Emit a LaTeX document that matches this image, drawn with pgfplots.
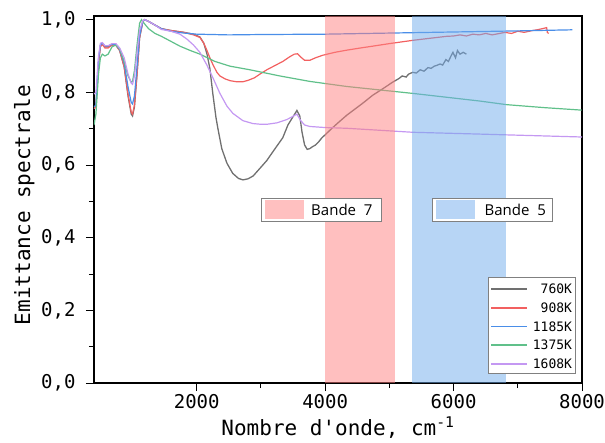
\documentclass[border=0pt]{standalone}
\usepackage{fontspec}
\setmainfont{DejaVu Sans Mono}[Ligatures=TeXOff]
\newfontfamily\bandfont{Open Sans}
\usepackage{pgfplots}
\pgfplotsset{compat=1.18}
\definecolor{cgray}{RGB}{112,112,112}
\definecolor{cred}{RGB}{242,96,96}
\definecolor{cblue}{RGB}{74,142,232}
\definecolor{cgreen}{RGB}{96,192,138}
\definecolor{cpurple}{RGB}{196,152,242}
\definecolor{bandred}{RGB}{255,128,128}
\definecolor{bandblue}{RGB}{112,172,236}
\begin{document}
\begin{tikzpicture}
\begin{axis}[
  scale only axis, width=488pt, height=367pt,
  xmin=400, xmax=8000, ymin=0, ymax=1.01,
  xtick={2000,4000,6000,8000}, ytick={0,0.2,0.4,0.6,0.8,1.0},
  minor x tick num=1, minor y tick num=1,
  tick align=outside, xtick pos=left, ytick pos=left,
  major tick length=8pt, minor tick length=5pt,
  every tick/.style={black, line width=0.9pt},
  axis line style={line width=1.1pt},
  /pgf/number format/assume math mode=true,
  xticklabel style={/pgf/number format/1000 sep={}, font=\fontsize{19}{21}\selectfont},
  yticklabel style={/pgf/number format/.cd, use comma, fixed, fixed zerofill, precision=1, /tikz/.cd, font=\fontsize{19}{21}\selectfont, xshift=-7pt},
  xlabel={Nombre d'onde, cm\textsuperscript{-1}},
  ylabel={Emittance spectrale},
  xlabel style={at={(axis description cs:0.5,-0.142)}, anchor=base, font=\fontsize{21}{23}\selectfont},
  ylabel style={at={(axis description cs:-0.143,0.485)}, anchor=center, font=\fontsize{21}{23}\selectfont},
]
\coordinate (ll) at (rel axis cs:0,0);
\coordinate (ur) at (rel axis cs:1,1);
% 760K
\addplot[cgray, line width=1.3pt] coordinates {
(400,0.755)(430,0.76)(470,0.88)(500,0.93)(530,0.935)(570,0.925)(620,0.925)(680,0.93)(740,0.93)(800,0.915)(870,0.87)(930,0.79)(980,0.74)(1000,0.735)(1030,0.76)(1070,0.85)(1110,0.95)(1160,0.995)(1190,1.0)(1250,0.995)(1350,0.985)(1450,0.975)(1600,0.97)(1800,0.965)(1950,0.96)(2050,0.952)(2110,0.935)(2160,0.905)(2205,0.865)(2250,0.797)(2300,0.73)(2330,0.70)(2390,0.645)(2470,0.605)(2560,0.577)(2650,0.563)(2720,0.559)(2800,0.562)(2880,0.57)(2980,0.59)(3090,0.612)(3200,0.64)(3340,0.675)(3420,0.71)(3500,0.733)(3560,0.75)(3605,0.735)(3640,0.69)(3680,0.655)(3720,0.643)(3760,0.645)(3800,0.65)(3850,0.655)(3900,0.664)(3950,0.675)(4000,0.683)(4100,0.70)(4200,0.716)(4337,0.737)(4450,0.752)(4600,0.772)(4741,0.792)(4900,0.81)(5052,0.828)(5150,0.838)(5200,0.845)(5260,0.842)(5300,0.85)(5364,0.855)(5420,0.853)(5480,0.862)(5540,0.858)(5600,0.868)(5650,0.866)(5700,0.872)(5737,0.874)(5790,0.878)(5830,0.875)(5880,0.89)(5920,0.885)(5960,0.9)(5990,0.91)(6030,0.895)(6060,0.915)(6100,0.905)(6150,0.91)(6200,0.905)};
% 908K
\addplot[cred, line width=1.2pt] coordinates {
(400,0.755)(430,0.76)(470,0.88)(500,0.925)(530,0.932)(570,0.922)(620,0.922)(680,0.93)(740,0.93)(800,0.915)(870,0.87)(930,0.795)(980,0.745)(1000,0.74)(1030,0.765)(1070,0.85)(1110,0.95)(1160,0.995)(1190,1.0)(1250,0.995)(1350,0.985)(1450,0.975)(1600,0.97)(1800,0.965)(1950,0.958)(2050,0.951)(2110,0.935)(2160,0.915)(2205,0.895)(2250,0.877)(2314,0.855)(2361,0.845)(2440,0.837)(2520,0.832)(2620,0.829)(2720,0.829)(2800,0.833)(2900,0.84)(2983,0.85)(3092,0.862)(3200,0.872)(3341,0.885)(3450,0.898)(3520,0.905)(3570,0.906)(3620,0.897)(3680,0.888)(3760,0.888)(3850,0.895)(3963,0.902)(4150,0.91)(4337,0.916)(4550,0.922)(4741,0.927)(5000,0.934)(5364,0.943)(5600,0.948)(5890,0.954)(6000,0.955)(6100,0.958)(6200,0.955)(6300,0.96)(6400,0.958)(6500,0.962)(6600,0.958)(6717,0.962)(6800,0.965)(6900,0.962)(7000,0.968)(7100,0.965)(7230,0.97)(7300,0.972)(7380,0.975)(7449,0.978)(7460,0.965)(7480,0.962)};
% 1185K
\addplot[cblue, line width=1.2pt] coordinates {
(400,0.76)(430,0.765)(470,0.89)(500,0.93)(530,0.935)(570,0.928)(620,0.928)(680,0.932)(740,0.932)(800,0.918)(870,0.88)(930,0.815)(980,0.772)(1000,0.768)(1030,0.79)(1070,0.87)(1110,0.955)(1160,0.995)(1190,1.0)(1250,0.995)(1350,0.985)(1450,0.975)(1600,0.968)(1800,0.963)(2000,0.96)(2500,0.958)(3000,0.959)(4000,0.96)(5000,0.963)(6000,0.966)(7000,0.969)(7850,0.972)};
% 1375K
\addplot[cgreen, line width=1.2pt] coordinates {
(400,0.71)(430,0.74)(470,0.85)(500,0.895)(530,0.905)(570,0.9)(620,0.905)(680,0.925)(740,0.93)(800,0.92)(870,0.885)(930,0.845)(980,0.828)(1000,0.83)(1030,0.86)(1070,0.93)(1110,0.99)(1140,1.0)(1180,0.99)(1250,0.975)(1350,0.962)(1450,0.954)(1600,0.94)(1738,0.927)(1900,0.915)(2050,0.905)(2283,0.885)(2516,0.872)(2827,0.862)(3294,0.845)(3760,0.83)(4337,0.816)(5364,0.797)(6406,0.776)(6826,0.766)(7400,0.758)(7993,0.751)};
% 1608K
\addplot[cpurple, line width=1.2pt] coordinates {
(400,0.795)(430,0.80)(470,0.90)(500,0.935)(530,0.937)(570,0.928)(620,0.928)(680,0.934)(740,0.934)(800,0.922)(870,0.895)(930,0.85)(980,0.825)(1000,0.822)(1030,0.845)(1070,0.91)(1110,0.97)(1160,0.997)(1190,1.0)(1250,0.995)(1350,0.985)(1450,0.973)(1600,0.968)(1738,0.96)(1850,0.946)(1950,0.93)(2049,0.91)(2158,0.875)(2252,0.84)(2361,0.797)(2470,0.762)(2563,0.742)(2718,0.722)(2874,0.714)(3000,0.712)(3092,0.712)(3250,0.716)(3403,0.725)(3500,0.734)(3559,0.74)(3620,0.722)(3680,0.71)(3760,0.706)(4000,0.703)(4337,0.701)(5364,0.69)(6406,0.685)(7000,0.682)(8000,0.677)};
% bands
\fill[bandred, fill opacity=0.5] (axis cs:4000,0) rectangle (axis cs:5080,1.01);
\fill[bandblue, fill opacity=0.5] (axis cs:5345,0) rectangle (axis cs:6810,1.01);
% band labels
\draw[gray, line width=0.8pt, fill=white] (axis cs:3014,0.445) rectangle (axis cs:4881,0.509);
\fill[bandred!50] (axis cs:3060,0.452) rectangle (axis cs:3667,0.503);
\node[anchor=west, font=\bandfont\fontsize{15}{17}\selectfont, inner sep=0pt] at (axis cs:3780,0.477) {Bande\ \ 7};
\draw[gray, line width=0.8pt, fill=white] (axis cs:5675,0.445) rectangle (axis cs:7542,0.509);
\fill[bandblue!50] (axis cs:5721,0.452) rectangle (axis cs:6329,0.503);
\node[anchor=west, font=\bandfont\fontsize{15}{17}\selectfont, inner sep=0pt] at (axis cs:6480,0.477) {Bande\ \ 5};
% legend (drawn as annotation)
\draw[gray, line width=0.8pt, fill=white] (rel axis cs:0.809,0.025) rectangle (rel axis cs:0.986,0.289);
\draw[cgray, line width=1.7pt] (rel axis cs:0.814,0.256) -- (rel axis cs:0.887,0.256);
\node[anchor=east, font=\fontsize{13}{15}\selectfont, inner sep=0pt] at (rel axis cs:0.980,0.256) {760K};
\draw[cred, line width=1.7pt] (rel axis cs:0.814,0.205) -- (rel axis cs:0.887,0.205);
\node[anchor=east, font=\fontsize{13}{15}\selectfont, inner sep=0pt] at (rel axis cs:0.980,0.205) {908K};
\draw[cblue, line width=1.7pt] (rel axis cs:0.814,0.154) -- (rel axis cs:0.887,0.154);
\node[anchor=east, font=\fontsize{13}{15}\selectfont, inner sep=0pt] at (rel axis cs:0.980,0.154) {1185K};
\draw[cgreen, line width=1.7pt] (rel axis cs:0.814,0.103) -- (rel axis cs:0.887,0.103);
\node[anchor=east, font=\fontsize{13}{15}\selectfont, inner sep=0pt] at (rel axis cs:0.980,0.103) {1375K};
\draw[cpurple, line width=1.7pt] (rel axis cs:0.814,0.052) -- (rel axis cs:0.887,0.052);
\node[anchor=east, font=\fontsize{13}{15}\selectfont, inner sep=0pt] at (rel axis cs:0.980,0.052) {1608K};
\end{axis}
\pgfresetboundingbox
\path[use as bounding box] ([xshift=-94pt,yshift=-59pt]ll) rectangle ([xshift=23pt,yshift=16pt]ur);
\end{tikzpicture}
\end{document}
